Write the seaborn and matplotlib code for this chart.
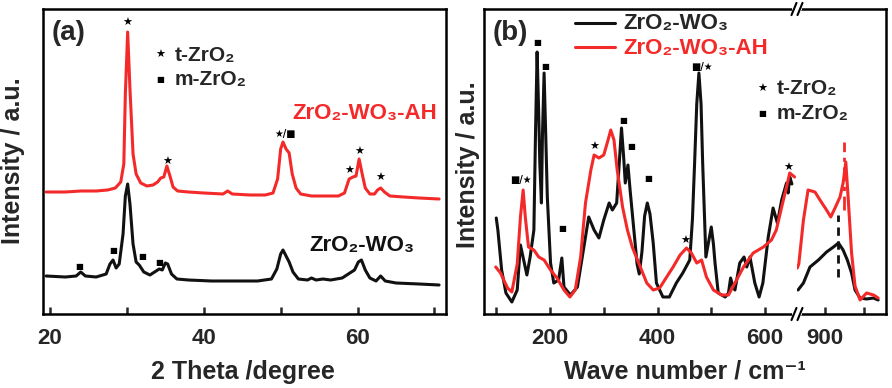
import matplotlib.pyplot as plt
import seaborn as sns

# ---- (a) XRD, 2theta vs intensity (a.u., curves offset as in the figure)
xrd_ah_theta = [19.5, 22, 24, 26, 27.5, 28.5, 29.2, 29.6, 29.8, 30.1, 30.4, 30.8, 31.2, 31.8, 32.6,
                33.4, 34.0, 34.4, 34.8, 35.2, 35.6, 36.0, 36.6, 38, 40, 42.5, 43.1, 43.7, 46, 48,
                49.0, 49.6, 50.0, 50.3, 50.7, 51.1, 51.5, 52.0, 52.6, 54, 56, 57.5, 58.3, 58.9, 59.4,
                59.8, 60.2, 60.6, 61.0, 61.6, 62.2, 62.6, 63.0, 63.5, 64.2, 66, 68, 70.6]
xrd_ah_int = [122, 122, 123, 123, 124, 126, 132, 150, 220, 282, 225, 160, 140, 131, 128,
              129, 132, 136, 137, 148, 138, 127, 123, 122, 121, 120, 123, 120, 119, 119,
              121, 135, 165, 172, 165, 161, 140, 126, 120, 118, 118, 118, 121, 135, 137,
              138, 155, 140, 126, 120, 120, 124, 126, 122, 118, 117, 116, 115]

xrd_theta = [19.5, 22, 23.4, 24.0, 24.6, 26, 27.3, 27.8, 28.2, 28.6, 29.0, 29.5, 29.8, 30.1, 30.4,
             30.8, 31.2, 31.6, 32.2, 33.0, 33.8, 34.2, 34.6, 35.0, 35.3, 35.8, 36.5, 38, 41, 44,
             47, 48.8, 49.5, 50.0, 50.3, 50.7, 51.1, 51.6, 52.3, 53.5, 54.0, 54.6, 55.5, 56.5, 58.0,
             58.8, 59.6, 60.1, 60.5, 61.0, 61.6, 62.4, 63.0, 63.6, 65, 68, 70.6]
xrd_int = [38, 37, 38, 42, 38, 37, 40, 50, 54, 46, 50, 80, 118, 130, 110,
           70, 52, 49, 42, 39, 43, 45, 44, 51, 50, 40, 35, 34, 33, 33,
           33, 35, 45, 60, 64, 58, 52, 42, 35, 34, 36, 34, 35, 34, 36,
           40, 44, 52, 54, 44, 36, 33, 38, 33, 31, 30, 29]

xrd_marks = [("★", 30.1, 291), ("★", 35.3, 152), ("★/■", 50.6, 180), ("★", 58.9, 143),
             ("★", 60.2, 162), ("★", 62.9, 136), ("■", 23.8, 48), ("■", 28.2, 63),
             ("■", 32.0, 58), ("■", 34.2, 51)]

# ---- (b) Raman, wave number vs intensity; low range (100-660) and high range (830-1050)
raman_wn = [100, 103, 110, 118, 129, 139, 145, 151, 157, 163, 170, 173, 176, 179, 181,
            184, 186, 189, 192, 195, 201, 207, 216, 222, 226, 238, 251, 260, 272, 282,
            291, 300, 310, 316, 324, 328, 333, 337, 340, 345, 349, 356, 362, 366, 371,
            376, 381, 386, 392, 398, 410, 422, 435, 447, 460, 465, 469, 473, 477, 481,
            484, 490, 495, 500, 504, 507, 513, 526, 532, 536, 540, 544, 553, 561, 566,
            572, 581, 589, 596, 606, 615, 623, 631, 640, 643, 646, 650]
raman_int = [96, 84, 44, 21, 12, 24, 69, 54, 39, 57, 84, 180, 262, 200, 151,
             111, 180, 241, 180, 117, 51, 31, 34, 56, 27, 19, 27, 57, 97, 84,
             76, 94, 111, 104, 111, 144, 186, 157, 131, 149, 124, 84, 50, 40, 62,
             98, 111, 100, 71, 31, 17, 17, 31, 41, 54, 95, 151, 210, 241, 210,
             151, 57, 72, 87, 70, 51, 21, 17, 21, 36, 28, 24, 51, 57, 47,
             57, 31, 17, 31, 77, 106, 91, 114, 131, 121, 137, 130]

raman_ah_wn = [99, 108, 121, 129, 139, 145, 150, 154, 160, 170, 179, 189, 201, 213, 226,
               237, 247, 257, 266, 276, 282, 291, 300, 308, 313, 319, 325, 335, 344, 353,
               365, 380, 392, 404, 417, 429, 442, 454, 463, 473, 482, 491, 504, 519, 532,
               544, 560, 578, 597, 612, 621, 631, 640, 646, 655]
raman_ah_int = [47, 41, 26, 22, 50, 97, 124, 97, 67, 64, 57, 54, 44, 36, 24,
                17, 24, 57, 111, 144, 159, 156, 159, 174, 184, 174, 144, 107, 84, 67,
                51, 31, 24, 26, 37, 47, 59, 66, 61, 51, 54, 37, 24, 19, 19,
                31, 47, 61, 67, 74, 84, 107, 127, 141, 137]

raman_hi_wn = [830, 844, 861, 883, 904, 922, 935, 947, 958, 969, 978, 991, 1008, 1026, 1038]
raman_hi_int = [24, 31, 47, 54, 62, 67, 71, 64, 54, 41, 24, 16, 15, 16, 14]
raman_ah_hi_wn = [828, 832, 844, 856, 874, 887, 904, 915, 926, 939, 947, 954, 960, 969, 978,
                  991, 1008, 1026, 1038]
raman_ah_hi_int = [46, 50, 94, 124, 122, 114, 104, 97, 106, 117, 131, 152, 117, 61, 28,
                   14, 21, 19, 16]

raman_marks = [("■/★", 145, 134), ("■", 176, 271), ("■", 191, 247), ("■", 222, 85),
               ("★", 282, 167), ("■", 336, 194), ("■", 351, 167), ("■", 382, 136),
               ("★", 451, 73), ("■/★", 483, 247), ("★", 643, 146)]

RED = "#f42a2a"
BLACK = "#111111"

sns.set_style("ticks")
plt.rcParams["font.family"] = ["Liberation Sans", "DejaVu Sans"]
plt.rcParams["font.weight"] = "bold"
plt.rcParams["axes.linewidth"] = 1.8

fig = plt.figure(figsize=(8.92, 3.88), dpi=100)
ax_a = fig.add_axes([43 / 892, 74 / 388, 403 / 892, 305 / 388])
ax_b2 = fig.add_axes([797 / 892, 74 / 388, 89 / 892, 305 / 388])
ax_b1 = fig.add_axes([484 / 892, 74 / 388, 313 / 892, 305 / 388])
ax_b1.patch.set_alpha(0)
ax_b2.patch.set_alpha(0)


def mark(ax, sym, x, y, **kw):
    # small phase symbols; squares drawn a bit smaller than the star glyph
    if sym == "■":
        size = 6
    elif "■" in sym:
        size = 7
    else:
        size = 8
    ax.text(x, y, sym, ha="center", va="center", fontsize=size, family="DejaVu Sans",
            color="black", **kw)


lw = 2.2
sns.lineplot(x=xrd_ah_theta, y=xrd_ah_int, ax=ax_a, color=RED, lw=lw, sort=False, estimator=None)
sns.lineplot(x=xrd_theta, y=xrd_int, ax=ax_a, color=BLACK, lw=lw, sort=False, estimator=None)
for sym, x, y in xrd_marks:
    mark(ax_a, sym, x, y)

sns.lineplot(x=raman_wn, y=raman_int, ax=ax_b1, color=BLACK, lw=lw, sort=False, estimator=None)
sns.lineplot(x=raman_ah_wn, y=raman_ah_int, ax=ax_b1, color=RED, lw=lw, sort=False, estimator=None)
sns.lineplot(x=raman_hi_wn, y=raman_hi_int, ax=ax_b2, color=BLACK, lw=lw, sort=False, estimator=None)
sns.lineplot(x=raman_ah_hi_wn, y=raman_ah_hi_int, ax=ax_b2, color=RED, lw=lw, sort=False, estimator=None)
ax_b2.plot([934, 934], [37, 99], color=BLACK, lw=2, ls=(0, (3, 2)))
ax_b2.plot([950, 950], [104, 172], color=RED, lw=2, ls=(0, (5, 2, 1.5, 2)))
for sym, x, y in raman_marks:
    mark(ax_b1, sym, x, y)

# axes limits / ticks
ax_a.set_xlim(19.09, 71.5)
ax_b1.set_xlim(77.2, 659.5)
ax_b2.set_xlim(827.3, 1058.4)
for ax in (ax_a, ax_b1, ax_b2):
    ax.set_ylim(0, 305)
    ax.set_yticks([])
    ax.set_ylabel("")
    ax.set_xlabel("")
    ax.tick_params(axis="x", which="both", direction="in", length=5, width=1.8,
                   labelsize=16, pad=10, top=False)
    for s in ax.spines.values():
        s.set_linewidth(1.8)
        s.set_color("black")

ax_a.set_xticks([20, 40, 60])
ax_a.set_xticks([30, 50, 70], minor=True)
ax_b1.set_xticks([200, 400, 600])
ax_b1.set_xticks([100, 300, 500], minor=True)
ax_b2.set_xticks([900])
ax_b2.set_xticks([1000], minor=True)
ax_b1.spines["right"].set_visible(False)
ax_b2.spines["left"].set_visible(False)

# broken axis marks
for yy in (0, 1):
    ax_b1.plot([0.9904, 1.0096], [yy, yy], color="white", lw=3, transform=ax_b1.transAxes,
               clip_on=False, zorder=5)
    for xx in (0.9904, 1.0096):
        ax_b1.plot([xx - 0.008, xx + 0.008], [yy - 0.02, yy + 0.02], color="black", lw=1.5,
                   transform=ax_b1.transAxes, clip_on=False, zorder=6)

# labels
ax_a.set_xlabel("2 Theta /degree", fontsize=18, fontweight="bold", va="center")
ax_a.xaxis.set_label_coords(0.496, -0.19)
ax_a.set_ylabel("Intensity / a.u.", fontsize=18, fontweight="bold", va="center")
ax_a.yaxis.set_label_coords(-0.074, 0.503)
ax_b1.set_xlabel("Wave number / cm⁻¹", fontsize=18, fontweight="bold", va="center")
ax_b1.xaxis.set_label_coords(0.642, -0.19)
ax_b1.set_ylabel("Intensity / a.u.", fontsize=18, fontweight="bold", va="center")
ax_b1.yaxis.set_label_coords(-0.051, 0.49)

ax_a.text(0.022, 0.921, "(a)", transform=ax_a.transAxes, fontsize=20, va="center", ha="left")
ax_b1.text(0.029, 0.921, "(b)", transform=ax_b1.transAxes, fontsize=20, va="center", ha="left")

# (a) phase key and sample names
mark(ax_a, "★", 0.290, 0.849, transform=ax_a.transAxes)
ax_a.text(0.3275, 0.849, "t-ZrO₂", transform=ax_a.transAxes, fontsize=15, ha="left", va="center")
mark(ax_a, "■", 0.290, 0.770, transform=ax_a.transAxes)
ax_a.text(0.3275, 0.770, "m-ZrO₂", transform=ax_a.transAxes, fontsize=15, ha="left", va="center")
ax_a.text(0.978, 0.659, "ZrO₂-WO₃-AH", transform=ax_a.transAxes, fontsize=16, color=RED,
          ha="right", va="center")
ax_a.text(0.923, 0.226, "ZrO₂-WO₃", transform=ax_a.transAxes, fontsize=16, color=BLACK,
          ha="right", va="center")

# (b) legend and phase key
ax_b1.plot([0.291, 0.419], [0.954, 0.954], color=BLACK, lw=2.2, transform=ax_b1.transAxes)
ax_b1.text(0.444, 0.951, "ZrO₂-WO₃", transform=ax_b1.transAxes, fontsize=16, ha="left", va="center")
ax_b1.plot([0.291, 0.419], [0.875, 0.875], color=RED, lw=2.2, transform=ax_b1.transAxes)
ax_b1.text(0.444, 0.872, "ZrO₂-WO₃-AH", transform=ax_b1.transAxes, fontsize=16, color=RED,
           ha="left", va="center")
mark(ax_b1, "★", 0.888, 0.738, transform=ax_b1.transAxes)
ax_b1.text(0.936, 0.738, "t-ZrO₂", transform=ax_b1.transAxes, fontsize=15, ha="left", va="center",
           clip_on=False)
mark(ax_b1, "■", 0.888, 0.659, transform=ax_b1.transAxes)
ax_b1.text(0.936, 0.659, "m-ZrO₂", transform=ax_b1.transAxes, fontsize=15, ha="left", va="center",
           clip_on=False)

fig.savefig("out.png", dpi=100)
